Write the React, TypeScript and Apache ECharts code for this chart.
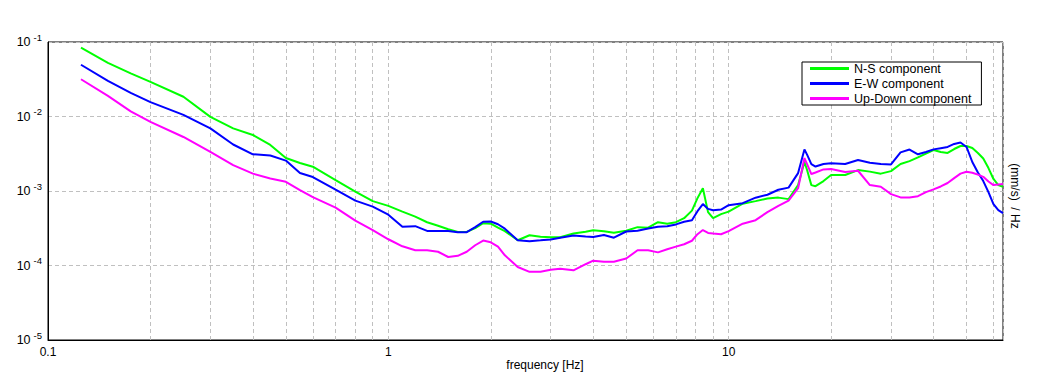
import { useEffect, useRef } from "react";
import * as echarts from "echarts";

const freqs = [
  0.125, 0.15, 0.175, 0.2, 0.25, 0.3, 0.35, 0.4, 0.45, 0.5, 0.55, 0.6, 0.7, 0.8, 0.9,
  1.0, 1.1, 1.2, 1.3, 1.4, 1.5, 1.6, 1.7, 1.8, 1.9,
  2.0, 2.1, 2.2, 2.4, 2.6, 2.8, 3.0, 3.2, 3.5, 3.8,
  4.0, 4.3, 4.6, 5.0, 5.4, 5.8, 6.2, 6.6, 7.0, 7.4,
  7.8, 8.1, 8.4, 8.7, 9.0, 9.5, 10, 11, 12, 13,
  14, 15, 16, 16.7, 17, 17.5, 18, 19, 20, 22,
  24, 26, 28, 30, 32, 34, 36, 38, 40, 42,
  44, 46, 48, 50, 52, 54, 56, 58, 60, 62, 64,
];

const nsComponent = [
  0.0838, 0.0526, 0.038, 0.0292, 0.0184, 0.00988, 0.00692, 0.00565, 0.00415, 0.00277, 0.00238, 0.00212, 0.0014, 0.000982, 0.000731,
  0.000632, 0.000528, 0.000452, 0.000381, 0.000342, 0.000307, 0.000282, 0.000282, 0.000317, 0.00037,
  0.000364, 0.000322, 0.000289, 0.000218, 0.000255, 0.000243, 0.00024, 0.00024, 0.000269, 0.000284,
  0.000298, 0.000289, 0.000275, 0.000293, 0.000327, 0.000322, 0.000381, 0.000364, 0.000381, 0.000432,
  0.000545, 0.000802, 0.00109, 0.00052, 0.000432, 0.000489, 0.000528, 0.000676, 0.000731, 0.000791,
  0.000815, 0.000778, 0.0012, 0.00245, 0.00191, 0.0012, 0.00116, 0.00136, 0.00164, 0.00164,
  0.00191, 0.00182, 0.00171, 0.00185, 0.0023, 0.00252, 0.00282, 0.00318, 0.00355, 0.00334,
  0.00324, 0.00366, 0.00402, 0.00402, 0.00378, 0.00324, 0.00273, 0.00203, 0.00145, 0.0012, 0.00114,
];

const ewComponent = [
  0.0495, 0.0301, 0.0208, 0.0156, 0.0105, 0.00692, 0.00421, 0.00311, 0.00299, 0.00256, 0.00174, 0.00154, 0.00104, 0.000743, 0.000617,
  0.000481, 0.000332, 0.000337, 0.000291, 0.000291, 0.000291, 0.00028, 0.00028, 0.000327, 0.000387,
  0.000389, 0.000358, 0.000312, 0.000218, 0.000212, 0.000218, 0.000224, 0.000236, 0.000252, 0.000245,
  0.000242, 0.000257, 0.000236, 0.000286, 0.000293, 0.000314, 0.000332, 0.000337, 0.000356, 0.000387,
  0.000406, 0.000536, 0.000667, 0.000575, 0.000553, 0.000564, 0.000646, 0.000687, 0.000813, 0.000891,
  0.00104, 0.00111, 0.00174, 0.00361, 0.00308, 0.0023, 0.00213, 0.0023, 0.00235, 0.0023,
  0.00261, 0.0024, 0.0023, 0.00227, 0.0033, 0.0036, 0.00311, 0.00334, 0.00362, 0.00376,
  0.0039, 0.00428, 0.00448, 0.0039, 0.00245, 0.00177, 0.00136, 0.000966, 0.000667, 0.000553, 0.000504,
];

const udComponent = [
  0.0316, 0.0189, 0.0117, 0.00846, 0.00531, 0.00334, 0.00223, 0.00171, 0.00147, 0.00133, 0.00103, 0.000828, 0.000598, 0.0004, 0.000298,
  0.000225, 0.000181, 0.00016, 0.00016, 0.000153, 0.00013, 0.000135, 0.000153, 0.000187, 0.000216,
  0.000205, 0.000179, 0.000137, 0.0000955, 0.0000822, 0.0000822, 0.0000875, 0.0000906, 0.0000861, 0.000104,
  0.000116, 0.000112, 0.000112, 0.000124, 0.00016, 0.00016, 0.00015, 0.000165, 0.000179, 0.000193,
  0.000215, 0.000263, 0.000299, 0.000274, 0.000269, 0.000263, 0.000289, 0.000364, 0.000406, 0.00052,
  0.000632, 0.000743, 0.00109, 0.00277, 0.0023, 0.00169, 0.00177, 0.00195, 0.00198, 0.0018,
  0.00187, 0.0012, 0.00114, 0.000908, 0.00082, 0.00082, 0.000853, 0.000966, 0.00105, 0.00115,
  0.00128, 0.00149, 0.00171, 0.00181, 0.00176, 0.00166, 0.00155, 0.00134, 0.0012, 0.00122, 0.00124,
];

const minorGridFreqs = [
  0.2, 0.3, 0.4, 0.5, 0.6, 0.7, 0.8, 0.9,
  2, 3, 4, 5, 6, 7, 8, 9,
  20, 30, 40, 50, 60,
];

const seriesNames = ["N-S component", "E-W component", "Up-Down component"];
const seriesColors = ["#00ff00", "#0000ff", "#ff00ff"];
const seriesValues = [nsComponent, ewComponent, udComponent];

const xAxisTitle = "frequency [Hz]";
const yAxisTitle = "(mm/s)  / Hz";

const FONT = "'Liberation Sans', Arial, sans-serif";
const GRID_COLOR = "#c0c0c0";

function isDecade(v: number) {
  const l = Math.log10(v);
  return Math.abs(l - Math.round(l)) < 1e-6;
}

export default function App() {
  const ref = useRef<HTMLDivElement>(null);

  useEffect(() => {
    document.body.style.margin = "0";
    const chart = echarts.init(ref.current!, null, { renderer: "svg" });

    const lineSeries = seriesNames.map((name, si) => ({
      name,
      type: "line",
      data: freqs.map((f, i) => [f, seriesValues[si][i]]),
      showSymbol: false,
      symbol: "none",
      smooth: false,
      z: 3 + si,
      lineStyle: { color: seriesColors[si], width: 2 },
      itemStyle: { color: seriesColors[si] },
    }));

    const option: any = {
      animation: false,
      backgroundColor: "#ffffff",
      textStyle: { fontFamily: FONT },
      grid: {
        left: 48,
        right: 48,
        top: 42,
        bottom: 42,
        show: true,
        borderColor: "#000",
        borderWidth: 1,
        backgroundColor: "#fff",
      },
      legend: {
        data: seriesNames,
        orient: "vertical",
        left: 802,
        top: 62,
        icon: "rect",
        itemWidth: 39,
        itemHeight: 3,
        itemGap: 2,
        padding: [0, 10, 0, 8],
        backgroundColor: "#fff",
        borderColor: "#000",
        borderWidth: 1,
        borderRadius: 0,
        selectedMode: false,
        textStyle: { fontSize: 12.5, lineHeight: 13, color: "#000", fontFamily: FONT },
      },
      xAxis: {
        type: "log",
        logBase: 10,
        min: 0.1,
        max: 64,
        axisLine: { show: true, lineStyle: { color: "#000", width: 1 } },
        axisTick: { show: false },
        splitLine: { show: true, lineStyle: { color: GRID_COLOR, type: [4, 3], width: 1 } },
        axisLabel: {
          show: true,
          margin: 6,
          fontSize: 12,
          color: "#000",
          fontFamily: FONT,
          showMinLabel: true,
          showMaxLabel: false,
          formatter: (v: number) => (isDecade(v) ? String(Number(v.toPrecision(6))) : ""),
        },
      },
      yAxis: {
        type: "log",
        logBase: 10,
        min: 1e-5,
        max: 1e-1,
        axisLine: { show: true, lineStyle: { color: "#000", width: 1 } },
        axisTick: { show: false },
        splitLine: { show: true, lineStyle: { color: GRID_COLOR, type: [4, 3], width: 1 } },
        axisLabel: {
          show: true,
          margin: 6,
          color: "#000",
          fontFamily: FONT,
          formatter: (v: number) => `{b|10}{s|${Math.round(Math.log10(v))}}`,
          rich: {
            b: { fontSize: 12.5, lineHeight: 20, verticalAlign: "middle", color: "#000", fontFamily: FONT },
            s: { fontSize: 9.5, lineHeight: 10, verticalAlign: "top", color: "#000", fontFamily: FONT, padding: [0, 0, 0, 3] },
          },
        },
      },
      graphic: [
        {
          type: "text",
          x: 545,
          y: 365,
          style: { text: xAxisTitle, fontSize: 12, fill: "#000", align: "center", verticalAlign: "middle", fontFamily: FONT },
        },
        {
          type: "text",
          x: 1015,
          y: 196,
          rotation: -Math.PI / 2,
          style: { text: yAxisTitle, fontSize: 12, fill: "#000", align: "center", verticalAlign: "middle", fontFamily: FONT },
        },
      ],
      series: [
        {
          name: "minor-grid",
          type: "line",
          data: [],
          z: 1,
          silent: true,
          markLine: {
            silent: true,
            symbol: "none",
            z: 1,
            label: { show: false },
            lineStyle: { color: GRID_COLOR, type: [4, 3], width: 1 },
            data: minorGridFreqs.map((f) => ({ xAxis: f })),
          },
        },
        ...lineSeries,
      ],
    };

    chart.setOption(option);
    return () => chart.dispose();
  }, []);

  return (
    <div
      ref={ref}
      style={{ position: "absolute", left: 0, top: 0, width: 1051, height: 382, background: "#fff" }}
    />
  );
}
